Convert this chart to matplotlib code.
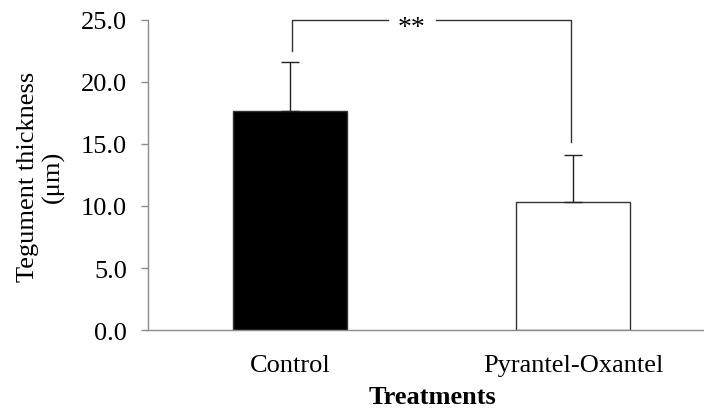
import matplotlib
matplotlib.use("Agg")
import matplotlib.pyplot as plt

plt.rcParams['font.family'] = ['Liberation Serif', 'DejaVu Serif']

categories = ["Control", "Pyrantel-Oxantel"]
means = [17.7, 10.3]
errors = [3.9, 3.8]
colors = ["black", "white"]
yticks = [0.0, 5.0, 10.0, 15.0, 20.0, 25.0]
sig_label = "**"
bracket_top = 25.0
bracket_left_bottom = 22.5
bracket_right_bottom = 15.2

fig = plt.figure(figsize=(7.04, 4.10), dpi=100)
ax = fig.add_axes([148/704, 1-331/410, 1-148/704, (331-21)/410])

x = list(range(len(categories)))
ax.bar(x, means, width=0.40, color=colors, edgecolor="#333333", linewidth=1.0, zorder=2)
ax.errorbar(x, means, yerr=[[0, 0], errors], fmt="none", ecolor="#222222",
            elinewidth=1.0, capsize=6.5, capthick=1.0, zorder=3)

ax.set_xlim(-0.502, 1.463)
ax.set_ylim(0, 25)
ax.set_yticks(yticks)
ax.set_yticklabels(["%.1f" % v for v in yticks])
ax.set_xticks(x)
ax.set_xticklabels(categories)

for s in ["top", "right"]:
    ax.spines[s].set_visible(False)
for s in ["left", "bottom"]:
    ax.spines[s].set_color("#8c8c8c")
    ax.spines[s].set_linewidth(1.0)

ax.tick_params(axis="y", direction="out", length=5, width=1.0, color="#8c8c8c",
               labelsize=19, pad=10)
ax.tick_params(axis="x", length=0, labelsize=19, pad=17)

# significance bracket
lx, rx = x[0] + 0.007, x[1] - 0.007
kw = dict(color="#333333", lw=1.0, clip_on=False, zorder=4)
ax.plot([lx, lx, 0.346], [bracket_left_bottom, bracket_top, bracket_top], **kw)
ax.plot([0.516, rx, rx], [bracket_top, bracket_top, bracket_right_bottom], **kw)
ax.annotate(sig_label, xy=(0.431, bracket_top), xytext=(0, -10),
            textcoords="offset points", ha="center", va="baseline",
            fontsize=20, annotation_clip=False)

fig.text(41/704, 1-177/410, "Tegument thickness\n(\u03bcm)", rotation=90,
         ha="center", va="center", fontsize=19, linespacing=1.15)
fig.text(432/704, 1-398/410, "Treatments", ha="center", va="center",
         fontsize=19, fontweight="bold")

fig.savefig("out.png", dpi=100)
